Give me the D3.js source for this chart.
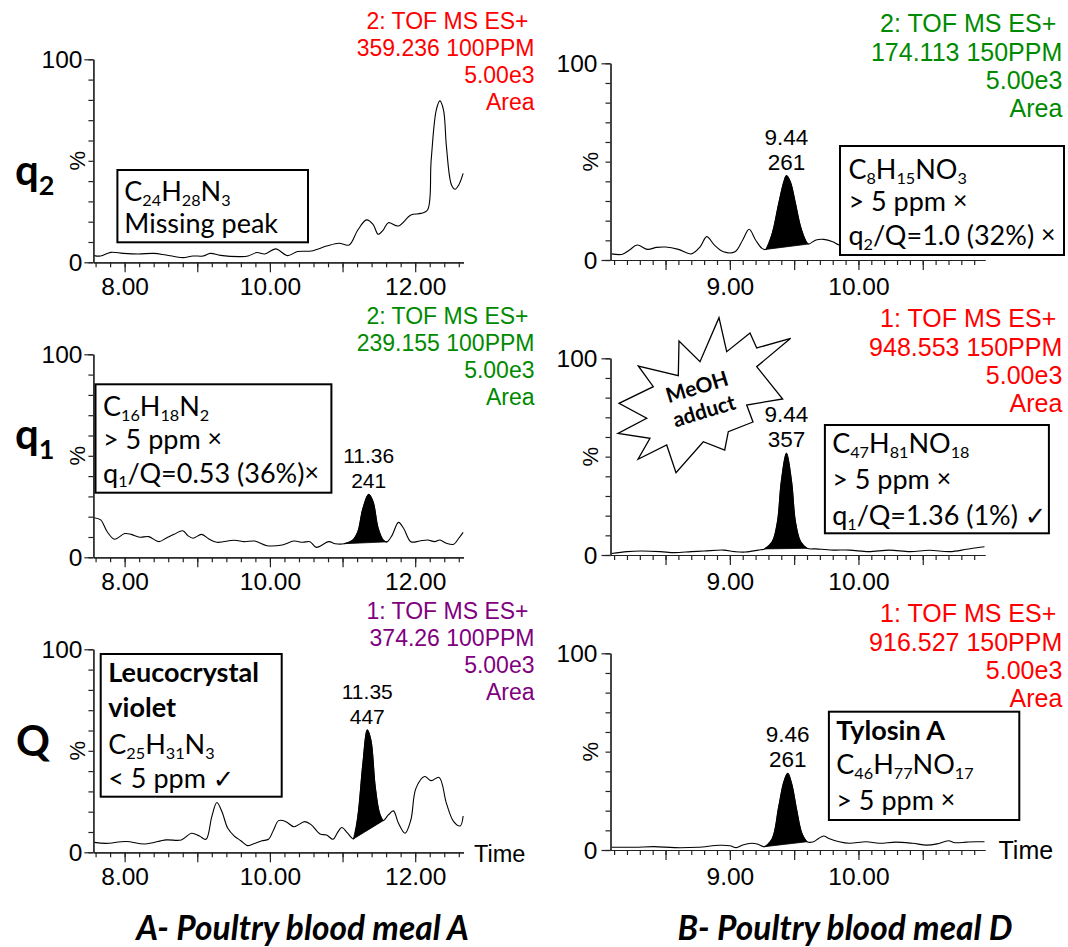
<!DOCTYPE html>
<html><head><meta charset="utf-8">
<script src="https://cdn.jsdelivr.net/npm/d3@7/dist/d3.min.js"></script>
<style>body{margin:0;background:#fff}svg{display:block}</style>
</head><body>
<svg id="c" width="1068" height="947"></svg>
<script>
// ---------------- DATA ----------------
// Column A: Poultry blood meal A ; Column B: Poultry blood meal D
const q2A_time = [7.58,7.67,7.81,7.98,8.19,8.40,8.57,8.80,8.94,9.08,9.18,9.32,9.60,9.70,9.82,9.93,10.08,10.24,10.38,10.57,10.78,10.95,11.09,11.21,11.33,11.42,11.49,11.56,11.63,11.77,11.94,12.08,12.17,12.22,12.29,12.34,12.39,12.43,12.50,12.55,12.60,12.66];
const q2A_pct  = [3.3,3.1,4.9,4.4,4.1,4.4,3.6,2.3,3.1,3.1,4.4,3.4,2.8,3.1,4.8,4.1,6.6,3.3,5.3,5.6,8.0,9.4,8.5,15.9,20.9,18.7,13.8,15.9,19.5,17.9,23.3,24.1,25.8,50.4,75.0,79.5,75.0,57.0,38.1,36.0,38.1,43.8];

const q2B_time = [8.08,8.165,8.22,8.28,8.36,8.43,8.50,8.60,8.70,8.77,8.82,8.88,8.95,9.04,9.10,9.15,9.20,9.25,9.28,9.33,9.38,9.42,9.44,9.47,9.51,9.55,9.59,9.61,9.67,9.73,9.80,9.85,9.95,10.2,10.5,10.8,10.98];
const q2B_pct  = [3.1,2.9,5.1,7.6,5.4,6.4,6.6,5.4,3.1,6.8,11.9,7.6,4.2,4.2,10.2,15.6,10.2,5.9,5.4,13.6,28.8,39.8,42.9,39.8,28.8,16.9,9.8,8.1,10.2,10.5,9.3,7.6,7,8,7,8,7];

const q1A_time = [7.58,7.67,7.76,7.86,8.00,8.09,8.21,8.33,8.47,8.57,8.68,8.80,8.87,8.94,9.06,9.16,9.27,9.51,9.65,9.79,9.96,10.17,10.33,10.45,10.55,10.64,10.81,10.90,11.02,11.14,11.21,11.28,11.36,11.42,11.49,11.56,11.61,11.68,11.77,11.84,11.94,12.06,12.17,12.27,12.34,12.43,12.53,12.60,12.66];
const q1A_pct  = [19.5,18.4,12.6,8.9,11.7,11.3,9.9,10.2,7.7,9.4,11.3,13.1,10.7,9.4,11.3,9.0,7.4,8.4,7.7,8.0,5.7,6.1,8.0,7.4,7.7,4.9,7.7,6.7,6.7,8.5,12.6,24.1,31.0,27.4,14.3,8.5,7.6,10.7,17.2,14.3,7.7,8.0,8.5,7.7,8.5,6.9,6.4,9.4,12.3];

const q1B_time = [8.08,8.20,8.31,8.46,8.57,8.70,8.80,8.95,9.04,9.12,9.22,9.27,9.33,9.37,9.40,9.44,9.48,9.51,9.55,9.60,9.67,9.80,9.93,10.08,10.24,10.40,10.55,10.71,10.84,10.92,10.98];
const q1B_pct  = [0.8,1.7,2.0,1.7,1.2,1.7,2.0,2.5,1.7,1.5,2.5,3.1,6.8,16.9,37.3,51.7,37.3,16.9,6.8,3.4,3.1,2.5,2.5,1.7,2.5,1.7,2.4,1.7,2.9,3.7,4.2];

const QA_time = [7.58,7.74,8.02,8.28,8.57,8.78,8.92,9.03,9.12,9.20,9.27,9.34,9.42,9.51,9.60,9.69,9.77,9.89,9.98,10.05,10.12,10.22,10.33,10.48,10.57,10.69,10.78,10.87,10.93,10.99,11.07,11.15,11.21,11.28,11.34,11.39,11.45,11.51,11.56,11.63,11.70,11.77,11.86,11.94,12.01,12.13,12.22,12.33,12.43,12.53,12.62,12.66];
const QA_pct  = [4.9,4.4,5.3,4.1,6.1,6.1,9.4,8.0,6.4,17.6,24.5,20.0,11.8,8.0,5.7,3.3,4.1,5.7,6.4,11.0,15.6,15.1,12.6,15.1,13.5,9.0,8.5,6.4,9.7,12.2,9.4,6.6,17.6,43.8,60.3,55.3,32.3,19.2,15.6,18.4,20.4,14.3,9.4,15.9,31.5,37.3,35.3,36.9,24.1,15.1,13.0,17.9];

const QB_time = [8.08,8.26,8.41,8.57,8.75,8.92,9.00,9.05,9.10,9.17,9.22,9.27,9.33,9.38,9.42,9.45,9.48,9.52,9.56,9.60,9.65,9.69,9.73,9.77,9.85,9.93,10.06,10.16,10.29,10.42,10.53,10.61,10.70,10.75,10.84,10.92,10.98];
const QB_pct  = [1.4,1.4,1.7,1.2,1.4,2.4,2.2,1.2,2.5,3.4,2.9,1.7,5.9,22.0,34.7,39.0,33.9,20.3,8.5,4.2,4.2,5.9,7.1,5.9,4.2,3.4,4.2,3.4,4.0,3.4,2.5,3.1,4.7,3.7,4.0,4.2,4.2];

// integrated peak windows [start, end] (min), and peak annotations
const peakWindows = {q2B:[9.28,9.61], q1A:[11.02,11.61], q1B:[9.27,9.60], QA:[11.15,11.56], QB:[9.27,9.60]};
const peakRT   = {q2B:"9.44", q1A:"11.36", q1B:"9.44", QA:"11.35", QB:"9.46"};
const peakArea = {q2B:"261",  q1A:"241",   q1B:"357",  QA:"447",   QB:"261"};
const peakApex = {q2B:9.44, q1A:11.36, q1B:9.44, QA:11.34, QB:9.45};

// header texts
const headerQ2A = ["2: TOF MS ES+","359.236 100PPM","5.00e3","Area"];
const headerQ2B = ["2: TOF MS ES+","174.113 150PPM","5.00e3","Area"];
const headerQ1A = ["2: TOF MS ES+","239.155 100PPM","5.00e3","Area"];
const headerQ1B = ["1: TOF MS ES+","948.553 150PPM","5.00e3","Area"];
const headerQA  = ["1: TOF MS ES+","374.26 100PPM","5.00e3","Area"];
const headerQB  = ["1: TOF MS ES+","916.527 150PPM","5.00e3","Area"];

// annotation box texts (_{..} subscript, ** bold line)
const boxQ2A = ["C_{24}H_{28}N_{3}","Missing peak"];
const boxQ2B = ["C_{8}H_{15}NO_{3}","> 5 ppm ×","q_{2}/Q=1.0 (32%) ×"];
const boxQ1A = ["C_{16}H_{18}N_{2}","> 5 ppm ×","q_{1}/Q=0.53 (36%)×"];
const boxQ1B = ["C_{47}H_{81}NO_{18}","> 5 ppm ×","q_{1}/Q=1.36 (1%) ✓"];
const boxQA  = ["**Leucocrystal","**violet","C_{25}H_{31}N_{3}","< 5 ppm ✓"];
const boxQB  = ["**Tylosin A","C_{46}H_{77}NO_{17}","> 5 ppm ×"];

const rowLabels = ["q","q","Q"];
const rowSubs = ["2","1",""];
const captions = ["A- Poultry blood meal A","B- Poultry blood meal D"];
const burstText = ["MeOH","adduct"];
const yTicks = [0,10,20,30,40,50,60,70,80,90,100];
const xMajorA = [8,9,10,11,12], xLabelA = [8,10,12];
const xMajorB = [8.5,9,9.5,10,10.5], xLabelB = [9,10];

// ---------------- LAYOUT ----------------
const FA = "'Liberation Sans', Arial, sans-serif";
const FC = "Lato, 'Open Sans', sans-serif";
const RED="#ff0000", GREEN="#008a00", PURPLE="#800080";
const ROW = 295;
const COLS = {
  A:{domain:[7.57,12.665], range:[93.4,463.5], y0:262.3, y100:59.3,
     major:xMajorA, labelled:xLabelA, minor:d3.range(76,127,2).map(v=>v/10),
     hdrX:534.5, hdrY:[29.3,56,83,110], hdrSize:23, tickFont:24.5, tickDy:33, peakFont:21,
     yLabX:-11, pctX:77, timeX:474, timeDy:9.4, timeFont:23.5},
  B:{domain:[8.072,10.984], range:[610.5,985], y0:260, y100:63.3,
     major:xMajorB, labelled:xLabelB, minor:d3.range(81,110,1).map(v=>v/10),
     hdrX:1062.3, hdrY:[31.5,60.5,89,117], hdrSize:25, tickFont:24.5, tickDy:35, peakFont:22.5,
     yLabX:-13, pctX:590.5, timeX:998.5, timeDy:9.3, timeFont:25}
};

const svg = d3.select("#c");

function parseLine(str){
  let bold=false;
  if(str.startsWith("**")){bold=true;str=str.slice(2);}
  const parts = str.split(/(_\{[^}]*\}|×|✓)/).filter(s=>s!=="");
  return {bold, segs:parts.map(p=> p.startsWith("_{")?{t:p.slice(2,-1),k:"sub"}:(p==="×"||p==="✓")?{t:p,k:p}:{t:p,k:"n"})};
}

function richText(g, x, y, str, size){
  const L = parseLine(str);
  const t = g.append("text").attr("x",x).attr("y",y)
    .style("font-family",FC).style("font-size",size+"px")
    .style("font-weight",L.bold?"700":"400").attr("fill","#000");
  let shift=0;
  L.segs.forEach(s=>{
    const ts=t.append("tspan").text(s.t);
    let want=0;
    if(s.k==="sub"){want=size*0.18; ts.style("font-size",(size*0.6)+"px");}
    else if(s.k==="×"){want=-size*0.06; ts.style("font-size",(size*0.92)+"px");}
    else if(s.k==="✓"){want=0; ts.style("font-size",(size*0.95)+"px").style("font-family","'DejaVu Sans', sans-serif");}
    if(want!==shift){ts.attr("dy",want-shift); shift=want;}
  });
  return t;
}

function panel(p){
  const c = COLS[p.col], off = p.row*ROW;
  const x = d3.scaleLinear(c.domain, c.range);
  const y = d3.scaleLinear([0,100],[c.y0+off, c.y100+off]);
  const g = svg.append("g");
  const pts = p.time.map((t,i)=>[t,p.pct[i]]);
  const line = d3.line().x(d=>x(d[0])).y(d=>y(d[1])).curve(d3.curveCatmullRom.alpha(0.5));
  if(p.key && peakWindows[p.key]){
    const w = peakWindows[p.key];
    const sub = pts.filter(d=>d[0]>=w[0]-1e-9 && d[0]<=w[1]+1e-9);
    g.append("path").attr("d", line(sub)+"Z").attr("fill","#000").attr("stroke","#000").attr("stroke-width",0.8);
  }
  g.append("path").attr("d", line(pts)).attr("fill","none").attr("stroke","#000").attr("stroke-width",1.1);

  // axes
  const styleAxis = sel=>{sel.selectAll("path,line").attr("stroke","#222").attr("stroke-width",1.2);};
  const gx = g.append("g").attr("transform",`translate(0,${c.y0+off})`);
  gx.append("g").call(d3.axisBottom(x).tickValues(c.minor).tickSize(5).tickSizeOuter(0).tickFormat("")).call(styleAxis);
  const gxm = gx.append("g").call(d3.axisBottom(x).tickValues(c.major).tickSize(10).tickSizeOuter(0)
      .tickFormat(d=>c.labelled.includes(d)?d3.format(".2f")(d):"")).call(styleAxis);
  gxm.selectAll("text").attr("y",c.tickDy).attr("dy",null).attr("fill","#000")
     .style("font-family",FA).style("font-size",c.tickFont+"px");

  const gy = g.append("g").attr("transform",`translate(${c.range[0]},0)`);
  gy.append("g").call(d3.axisLeft(y).tickValues(yTicks).tickSize(5).tickSizeOuter(0).tickFormat("")).call(styleAxis);
  const gym = gy.append("g").call(d3.axisLeft(y).tickValues([0,100]).tickSize(9).tickSizeOuter(0).tickFormat(d=>d)).call(styleAxis);
  gym.selectAll("text").attr("x",c.yLabX).attr("dy","0.35em").attr("fill","#000")
     .style("font-family",FA).style("font-size",c.tickFont+"px");

  g.append("text").attr("transform",`translate(${c.pctX},${y(50)}) rotate(-90)`)
    .attr("text-anchor","middle").attr("dy","0.35em")
    .style("font-family",FA).style("font-size","22px").text("%");

  // header
  p.header.forEach((s,i)=>{
    g.append("text").attr("x",c.hdrX - (i===0?6:0)).attr("y",c.hdrY[i]+off)
      .attr("text-anchor","end").attr("fill",p.color)
      .style("font-family",FA).style("font-size",c.hdrSize+"px").text(s);
  });

  // peak annotation
  if(p.key && peakRT[p.key]){
    const ax = x(peakApex[p.key]);
    const apexV = d3.max(pts.filter(d=>Math.abs(d[0]-peakApex[p.key])<0.05), d=>d[1]);
    const by = y(apexV) - 6;
    g.append("text").attr("x",ax).attr("y",by-25).attr("text-anchor","middle")
      .style("font-family",FA).style("font-size",c.peakFont+"px").text(peakRT[p.key]);
    g.append("text").attr("x",ax).attr("y",by).attr("text-anchor","middle")
      .style("font-family",FA).style("font-size",c.peakFont+"px").text(peakArea[p.key]);
  }

  // box
  const b = p.box;
  g.append("rect").attr("x",b.x).attr("y",b.y).attr("width",b.w).attr("height",b.h)
    .attr("fill","#fff").attr("stroke","#000").attr("stroke-width",2);
  p.boxText.forEach((s,i)=>richText(g, b.tx, b.base[i], s, b.size));

  if(p.showTime){
    g.append("text").attr("x",c.timeX).attr("y",c.y0+off+c.timeDy)
      .style("font-family",FA).style("font-size",c.timeFont+"px").text("Time");
  }
}

const panels = [
  {col:"A",row:0,time:q2A_time,pct:q2A_pct,key:null,header:headerQ2A,color:RED,boxText:boxQ2A,
   box:{x:117.4,y:170,w:190.6,h:72.3,tx:124.3,base:[201,233.3],size:27}},
  {col:"B",row:0,time:q2B_time,pct:q2B_pct,key:"q2B",header:headerQ2B,color:GREEN,boxText:boxQ2B,
   box:{x:840,y:146,w:224,h:109,tx:848.4,base:[179,211,245],size:27}},
  {col:"A",row:1,time:q1A_time,pct:q1A_pct,key:"q1A",header:headerQ1A,color:GREEN,boxText:boxQ1A,
   box:{x:95.5,y:384.3,w:235.9,h:108.4,tx:103,base:[416,449,482.5],size:27}},
  {col:"B",row:1,time:q1B_time,pct:q1B_pct,key:"q1B",header:headerQ1B,color:RED,boxText:boxQ1B,
   box:{x:824.9,y:425,w:224,h:108.3,tx:832.2,base:[453,489,525],size:27}},
  {col:"A",row:2,time:QA_time,pct:QA_pct,key:"QA",header:headerQA,color:PURPLE,boxText:boxQA,showTime:true,
   box:{x:100.7,y:654,w:181,h:142.7,tx:108.3,base:[681.7,716.7,754,788],size:27}},
  {col:"B",row:2,time:QB_time,pct:QB_pct,key:"QB",header:headerQB,color:RED,boxText:boxQB,showTime:true,
   box:{x:828.9,y:711.7,w:190.4,h:108.3,tx:836.3,base:[740,774,810],size:27}}
];
panels.forEach(panel);

// row labels
const rowLab = [{x:15,y:185},{x:15,y:449},{x:16,y:756}];
rowLabels.forEach((s,i)=>{
  const t = svg.append("text").attr("x",rowLab[i].x).attr("y",rowLab[i].y)
    .style("font-family",FC).style("font-weight","700").style("font-size","42px").text(s);
  if(rowSubs[i]) t.append("tspan").attr("dy",10).style("font-size","27px").text(rowSubs[i]);
});

// starburst annotation
const burst = [[719,317.7],[726.7,351.7],[750,333],[756.7,348],[790.7,338.3],[756.7,366.7],[782.7,399],
  [746.7,405],[753,422],[728.3,431.7],[724.7,450],[703.3,441.7],[676,472.7],[666.7,445],[638,459.3],
  [650,438.3],[618,433.3],[646.7,418.3],[619,403.3],[653.3,386.7],[638.3,366],[678.3,375.7],[679,341],[700,361.7]];
svg.append("path").attr("d", d3.line()(burst)+"Z").attr("fill","#fff").attr("stroke","#000").attr("stroke-width",1.3);
const bt = [{x:697,y:387},{x:704,y:411}];
burstText.forEach((s,i)=>{
  svg.append("text").attr("transform",`translate(${bt[i].x},${bt[i].y}) rotate(-17)`)
    .attr("text-anchor","middle").attr("dy","0.35em")
    .style("font-family",FC).style("font-weight","700").style("font-size","21px").text(s);
});

// captions
const capX=[302.5,845];
captions.forEach((s,i)=>{
  svg.append("text").attr("x",capX[i]).attr("y",940).attr("text-anchor","middle")
    .style("font-family",FC).style("font-weight","700").style("font-style","italic").style("font-size","33.5px").text(s);
});
</script>
</body></html>
